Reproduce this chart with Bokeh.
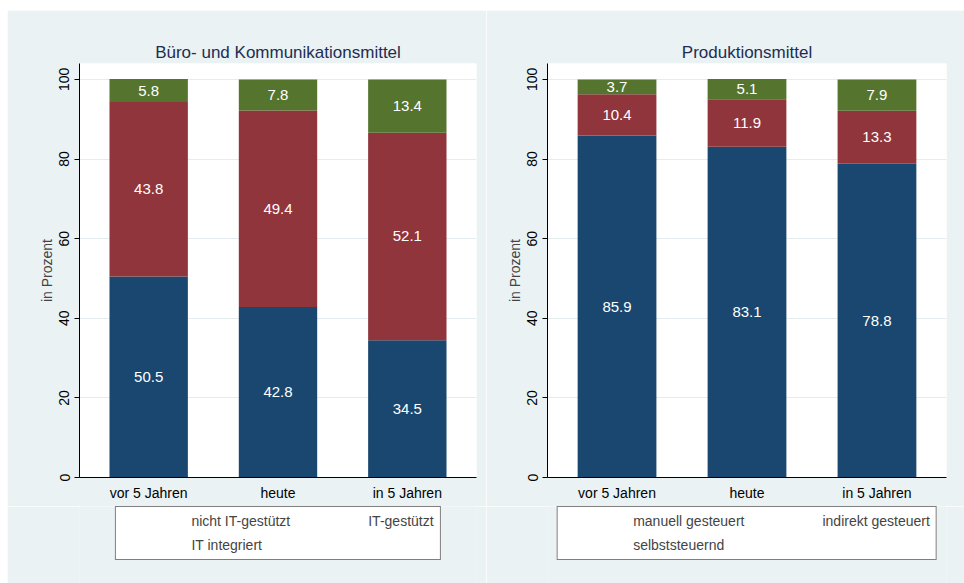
from bokeh.plotting import figure
from bokeh.models import FactorRange, Legend, LegendItem, ColumnDataSource, LabelSet, Range1d
from bokeh.core.properties import value
from bokeh.layouts import row, column
from bokeh.embed import file_html
from bokeh.resources import INLINE

categories = ["vor 5 Jahren", "heute", "in 5 Jahren"]
y_ticks = [0, 20, 40, 60, 80, 100]

title1 = "Büro- und Kommunikationsmittel"
series1_names = ["nicht IT-gestützt", "IT-gestützt", "IT integriert"]
nicht_it = [50.5, 42.8, 34.5]
it_gestuetzt = [43.8, 49.4, 52.1]
it_integriert = [5.8, 7.8, 13.4]

title2 = "Produktionsmittel"
series2_names = ["manuell gesteuert", "indirekt gesteuert", "selbststeuernd"]
manuell = [85.9, 83.1, 78.8]
indirekt = [10.4, 11.9, 13.3]
selbst = [3.7, 5.1, 7.9]

COLORS = ["#1a476f", "#90353b", "#55752f"]
BG = "#eaf2f3"
FONT = "Liberation Sans"


def make_panel(title, series, left_border, frame_w, right_border):
    p = figure(x_range=FactorRange(*categories, range_padding=0.0233),
               y_range=(0, 104), frame_width=frame_w, frame_height=414,
               output_backend="svg", toolbar_location=None,
               min_border_left=left_border, min_border_right=right_border,
               min_border_top=53, min_border_bottom=29,
               background_fill_color="white", border_fill_color=BG,
               outline_line_color=None)
    p.title.text = title
    p.title.align = "center"
    p.title.text_font = FONT
    p.title.text_font_size = "17px"
    p.title.text_font_style = "normal"
    p.title.text_color = "#1e2d52"
    p.title.offset = 0
    p.title.standoff = 4

    keys = ["s0", "s1", "s2"]
    data = {"cat": categories}
    for k, s in zip(keys, series):
        data[k] = s
    src = ColumnDataSource(data)
    p.vbar_stack(keys, x="cat", width=0.606, source=src,
                 color=COLORS, line_color=None)

    # labels at the centre of each segment
    bottom = [0.0] * len(categories)
    for s in series:
        mids = [b + v / 2 for b, v in zip(bottom, s)]
        lsrc = ColumnDataSource(dict(cat=categories, y=mids,
                                     txt=[f"{v:.1f}" for v in s]))
        p.add_layout(LabelSet(x="cat", y="y", text="txt", source=lsrc,
                              text_align="center", text_baseline="middle",
                              text_color="white", text_font=value(FONT),
                              text_font_size="15px"))
        bottom = [b + v for b, v in zip(bottom, s)]

    p.xgrid.grid_line_color = None
    p.ygrid.grid_line_color = "#e3ecee"
    p.ygrid.grid_line_width = 1
    p.yaxis.ticker = y_ticks
    p.yaxis.major_label_orientation = "vertical"
    p.yaxis.axis_label = "in Prozent"
    p.yaxis.axis_label_text_font = FONT
    p.yaxis.axis_label_text_font_size = "14px"
    p.yaxis.axis_label_text_font_style = "normal"
    p.yaxis.axis_label_standoff = 2
    for ax in (p.xaxis, p.yaxis):
        ax.major_label_text_font = FONT
        ax.major_label_text_font_size = "14px"
        ax.major_label_text_color = "black"
        ax.axis_line_color = "black"
        ax.major_tick_line_color = "black"
        ax.major_tick_out = 5
        ax.major_tick_in = 0
        ax.minor_tick_line_color = None
    p.xaxis.major_tick_line_color = None
    p.xaxis.major_label_standoff = 2
    return p


def make_legend_fig(names, left_border, frame_w, right_border):
    lf = figure(x_range=Range1d(0, 1), y_range=Range1d(0, 1),
                frame_width=frame_w, frame_height=77,
                min_border_left=left_border, min_border_right=right_border,
                min_border_top=0, min_border_bottom=0,
                x_axis_location=None, y_axis_location=None,
                output_backend="svg", toolbar_location=None,
                background_fill_color=BG, border_fill_color=BG,
                outline_line_color=None)
    lf.xgrid.grid_line_color = None
    lf.ygrid.grid_line_color = None
    rends = []
    for c in COLORS:
        esrc = ColumnDataSource(dict(x=[], top=[]))
        rends.append(lf.vbar(x="x", top="top", width=0.5, source=esrc,
                             color=c, line_color=None))
    items = [LegendItem(label=n, renderers=[r]) for n, r in zip(names, rends)]
    leg = Legend(items=items, location="top_center", orientation="horizontal",
                 ncols=2, glyph_width=58, glyph_height=15, label_height=15,
                 label_standoff=12, spacing=8, padding=6, margin=0,
                 label_text_font=FONT, label_text_font_size="14px",
                 border_line_color="black", border_line_width=1,
                 background_fill_color="white", background_fill_alpha=1)
    lf.add_layout(leg, "center")
    return lf


p1 = make_panel(title1, [nicht_it, it_gestuetzt, it_integriert], 72, 397, 10)
p2 = make_panel(title2, [manuell, indirekt, selbst], 61, 399, 18)
l1 = make_legend_fig(series1_names, 72, 397, 10)
l2 = make_legend_fig(series2_names, 61, 399, 18)

layout = column(row(p1, p2, spacing=0), row(l1, l2, spacing=0),
                spacing=0, margin=(10, 0, 0, 7))
open("out.html", "w").write(file_html(layout, INLINE))
